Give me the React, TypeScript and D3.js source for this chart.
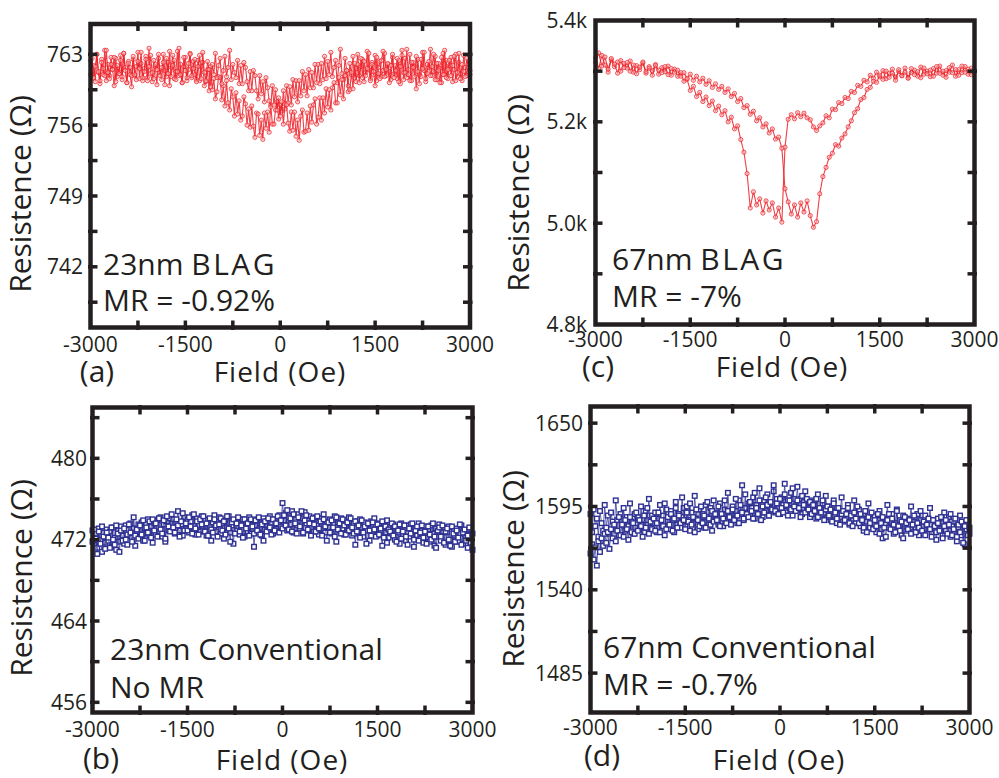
import React from 'react';
import * as d3 from 'd3';

// ---------------- data ----------------
// field grids of the sweeps (Oe)
const FIELD_FINE: number[] = d3.range(-3000, 3001, 25);
const FIELD_C: number[] = d3.range(-3000, 3001, 50);
const X_TICKS: number[] = d3.range(-3000, 3001, 750);
const X_LABELS: number[] = [-3000, -1500, 0, 1500, 3000];

// (a) 23nm BLAG  (on FIELD_FINE)
const A_SWEEP1: number[] = [
  762.4, 760.6, 761.9, 760.3, 763.0, 761.2, 760.1, 762.5, 761.0, 763.4,
  760.4, 762.0, 760.9, 762.7, 761.5, 759.9, 762.6, 760.8, 761.3, 762.9,
  760.5, 763.1, 761.7, 760.2, 762.3, 761.0, 759.8, 762.5, 760.9, 761.8,
  763.2, 760.6, 762.1, 760.4, 761.6, 762.8, 760.7, 763.6, 761.1, 760.3,
  762.4, 761.8, 760.0, 762.6, 761.2, 760.5, 763.0, 761.4, 760.8, 762.2,
  759.9, 761.7, 762.9, 760.6, 761.3, 763.3, 760.9, 762.0, 760.2, 761.8,
  762.7, 760.4, 761.5, 763.1, 760.7, 762.3, 761.0, 760.5,
  762.4, 760.4, 761.8, 762.2, 759.9, 760.3, 761.5, 759.4, 761.8, 759.5,
  760.6, 758.6, 759.3, 760.8, 760.7, 758.5, 759.9, 757.9, 760.4, 758.2,
  757.5, 759.6, 758.8, 756.9, 759.2, 757.1, 758.4, 756.5, 756.9, 758.8,
  758.1, 756.0, 757.6, 755.8, 757.9, 755.9, 754.8, 757.2, 757.1, 755.0,
  756.5, 754.6, 757.2, 755.7, 757.3, 755.3, 758.0, 756.1, 756.1, 757.5,
  758.3, 756.6, 758.0,
  757.4, 759.4, 757.6, 759.9, 758.2, 759.8, 758.0, 760.5, 758.8, 760.4,
  758.3, 760.4, 758.9, 761.3, 759.4, 761.0, 758.9, 761.5, 759.7, 761.2,
  759.7, 762.0, 760.2, 762.0, 760.1, 762.1, 760.5, 762.8,
  760.6, 762.3, 761.0, 763.2, 760.8, 761.7, 762.4, 760.2, 761.9, 763.5,
  761.1, 760.5, 762.6, 761.4, 759.9, 762.1, 761.0, 762.8, 760.7, 761.6,
  763.0, 760.9, 761.8, 762.5, 760.3, 761.2, 763.3, 761.5, 760.6, 762.2,
  761.0, 762.9, 760.4, 761.7, 762.3, 760.8, 761.4, 763.1, 760.9, 762.0,
  761.3, 760.5, 762.7, 761.1, 761.9, 760.6, 762.4, 760.1, 763.4, 761.2,
  762.6, 760.7, 761.5, 763.0, 760.4, 762.2, 761.8, 759.6, 762.5, 761.0,
  760.8, 763.2, 761.4, 760.3, 762.0, 761.7, 763.5, 760.9, 761.3, 762.8,
  760.5, 762.1, 761.6, 760.2, 763.1, 761.0, 762.4, 760.6, 761.9, 762.7,
  760.3, 761.5, 763.0, 760.8, 762.2, 761.1, 760.4, 762.9, 761.7, 760.9,
  762.3, 761.4,
];
const A_SWEEP2: number[] = [
  761.0, 762.6, 760.7, 761.8, 763.0, 761.3, 760.4, 762.2, 761.6, 760.9,
  763.4, 761.2, 760.6, 762.0, 761.5, 762.7, 760.3, 761.9, 761.1, 762.4,
  760.8, 763.1, 761.4, 760.2, 762.1, 761.7, 760.9, 762.8, 761.0, 760.5,
  762.3, 761.6, 763.2, 760.7, 761.3, 762.5, 760.4, 761.8, 762.9, 761.2,
  760.6, 762.0, 761.5, 763.0, 760.9, 761.7, 762.2, 760.0, 762.6, 761.1,
  763.3, 760.8, 761.9, 762.4, 760.5, 761.3, 763.6, 761.0, 760.2, 762.7,
  761.4, 760.7, 762.1, 763.0, 760.9, 761.6, 762.5, 760.3, 761.8, 762.9,
  760.6, 763.2, 761.2, 760.4, 762.3, 761.5, 759.8, 762.0, 761.0, 763.1,
  760.7, 761.9, 762.6, 760.1, 761.4, 762.8, 760.8, 761.7, 763.4, 760.5,
  762.0, 761.2,
  760.7, 762.4, 760.1, 761.9, 760.1, 762.2, 761.7, 760.3, 759.4, 761.3,
  759.4, 761.4, 760.9, 759.4, 758.6, 760.9, 759.1, 760.3, 758.3, 760.7,
  759.7, 758.4, 757.8, 759.9, 758.0, 759.5, 757.5, 758.7,
  756.9, 758.3, 756.1, 758.1, 758.0, 756.2, 755.4, 757.3, 755.5, 757.3,
  754.9, 756.5, 754.5, 756.9, 757.5, 755.3, 755.4, 757.2, 755.5, 757.9,
  756.3, 758.0, 758.6, 756.1, 756.8, 758.7, 756.5, 758.7, 757.2, 759.6,
  757.8, 759.5, 757.5, 759.7, 760.2, 758.2, 758.2, 760.7, 759.0, 760.5,
  758.6, 760.9, 761.4, 759.3, 759.5, 761.2, 759.6, 762.1, 760.3, 762.0,
  760.2, 762.6, 760.7,
  762.3, 760.9, 761.6, 763.1, 760.4, 762.0, 761.3, 759.9, 762.7, 761.1,
  760.6, 762.4, 763.3, 760.8, 761.5, 762.1, 760.2, 761.9, 763.0, 760.7,
  761.4, 762.6, 760.3, 761.8, 762.9, 760.5, 761.2, 763.5, 761.0, 760.4,
  762.2, 761.7, 760.8, 762.8, 761.3, 760.1, 762.5, 761.6, 763.2, 760.6,
  761.1, 762.3, 760.9, 761.8, 763.0, 760.5, 762.1, 761.4, 760.2, 762.7,
  761.0, 763.4, 760.7, 761.5, 762.4, 760.9, 761.9, 762.8, 760.4, 761.2,
  763.1, 760.6, 762.0, 761.3, 760.8, 762.6, 761.7, 761.0,
];
const A_Y_MAJOR: number[] = [763, 756, 749, 742];
const A_Y_MINOR: number[] = [759.5, 752.5, 745.5, 738.5];
const A_Y_LABELS: string[] = ['763', '756', '749', '742'];

// (c) 67nm BLAG  (on FIELD_C)
const C_SWEEP1: number[] = [
  5326, 5305, 5331, 5312, 5298, 5322, 5309, 5318, 5300, 5315,
  5306, 5320, 5298, 5311, 5303, 5316, 5296, 5309, 5301, 5313,
  5294, 5307, 5299, 5310, 5292, 5304,
  5290, 5297, 5280, 5284, 5262, 5270, 5250, 5258, 5240, 5249,
  5232, 5241, 5222, 5231, 5214, 5222, 5200, 5209, 5186, 5192,
  5165, 5140, 5098, 5030, 5062, 5036, 5048, 5020, 5044, 5026,
  5040, 5012, 5030,
  5002, 5150, 5205, 5214, 5206, 5218, 5210, 5217, 5208, 5204,
  5190, 5183, 5192, 5198, 5212, 5208, 5225, 5224, 5238, 5236,
  5248, 5246, 5260, 5258, 5272, 5270, 5282, 5279,
  5292, 5286, 5298, 5289, 5301, 5285, 5296, 5304, 5288, 5299,
  5291, 5306, 5287, 5297, 5302, 5290, 5308, 5294, 5300, 5289,
  5305, 5296, 5310, 5292, 5301, 5298, 5312, 5290, 5303, 5297,
  5309, 5294, 5306, 5300,
];
const C_SWEEP2: number[] = [
  5318, 5336, 5310, 5328, 5304, 5325, 5314, 5296, 5321, 5307,
  5317, 5300, 5312, 5295, 5308, 5318, 5299, 5306, 5292, 5311,
  5302, 5297, 5309, 5293, 5305, 5298,
  5302, 5290, 5297, 5286, 5294, 5282, 5290, 5279, 5286, 5274,
  5281, 5268, 5275, 5264, 5270, 5258, 5265, 5250, 5256, 5240,
  5246, 5228, 5232, 5215, 5221, 5202, 5208, 5190, 5196, 5178,
  5186, 5166, 5170, 5148,
  5068, 5042, 5018, 5036, 5012, 5040, 5022, 5044, 5015, 4992, 5003,
  5058, 5092, 5110, 5130, 5138, 5155, 5152, 5168, 5176, 5190,
  5202, 5218, 5226, 5244, 5248, 5264, 5268, 5280, 5278,
  5292, 5284, 5300, 5288, 5296, 5282, 5303, 5291, 5298, 5286,
  5305, 5293, 5299, 5287, 5306, 5295, 5302, 5290, 5309, 5296,
  5300, 5288, 5307, 5297, 5303, 5292, 5310, 5298, 5304, 5293, 5301,
];
const C_Y_MAJOR: number[] = [5400, 5200, 5000, 4800];
const C_Y_MINOR: number[] = [5300, 5100, 4900];
const C_Y_LABELS: string[] = ['5.4k', '5.2k', '5.0k', '4.8k'];

// (b) 23nm Conventional  (on FIELD_FINE)
const B_SWEEP1: number[] = [
  472.9, 471.5, 472.6, 471.2, 473.1, 472.0, 470.8, 472.7, 471.7, 473.0,
  471.9, 472.8, 471.3, 473.2, 472.2, 471.0, 472.9, 471.8, 473.3, 472.4,
  471.6, 473.4, 472.5, 471.9, 473.6, 472.2, 473.1, 471.4, 472.8, 473.5,
  472.3, 473.7, 471.9, 473.1, 472.6, 474.0, 472.4, 473.3, 471.7, 473.6,
  472.5, 473.9, 472.8, 474.2, 472.3, 473.5, 471.8, 473.8, 472.9, 474.1,
  473.0, 474.0, 472.6, 473.7, 474.8, 472.9, 473.5, 472.4, 474.2, 473.1,
  474.0, 472.7, 473.8, 474.4, 473.0, 472.5, 474.1, 473.4, 472.8, 474.3,
  472.9, 473.9, 472.4, 474.0, 473.3, 471.9, 473.7, 474.4, 472.8, 473.5,
  474.2, 472.6, 473.6, 472.1, 473.9, 473.2, 474.3, 472.7, 473.4, 471.6,
  473.8, 472.9, 474.1, 472.5, 473.5, 474.0, 472.3, 473.7, 472.8, 474.2,
  472.6, 473.9, 471.3, 473.4, 474.0, 472.7, 473.6, 472.4, 474.1, 473.0,
  473.8, 472.9, 474.3, 473.2, 472.6, 474.0, 473.5, 472.8, 474.4, 473.3,
  475.6, 473.9, 474.6, 472.9, 474.2, 473.5, 474.8, 472.7, 474.0, 473.4,
  474.5, 473.1, 474.1, 472.6, 474.7, 473.6, 472.9, 474.3, 473.2, 474.0,
  472.8, 474.2, 473.4, 472.5, 474.1, 473.0, 474.5, 472.7, 473.8, 473.2,
  474.0, 472.6, 473.5, 474.3, 471.8, 473.7, 472.9, 474.1, 473.1, 472.5,
  473.9, 472.8, 474.2, 473.3, 472.4, 473.6, 471.5, 473.8, 472.7, 474.0,
  473.2, 472.3, 473.7, 472.9, 473.5, 471.9, 473.8, 472.6, 474.1, 473.0,
  472.4, 473.6, 472.8, 471.4, 473.4, 472.7, 473.9, 472.2, 473.3, 472.6,
  473.5, 472.0, 473.2, 472.7, 471.6, 473.6, 472.5, 473.1, 471.9, 473.4,
  472.3, 473.5, 472.8, 471.3, 473.2, 472.4, 473.6, 472.1, 472.9, 471.7,
  473.3, 472.2, 473.0, 471.8, 473.4, 472.6, 471.4, 473.1, 472.3, 473.5,
  471.9, 472.8, 473.2, 471.5, 472.7, 473.3, 472.0, 471.3, 473.0, 472.4,
  473.1, 471.8, 472.6, 473.4, 471.6, 472.9, 472.2, 471.2, 473.0, 472.5,
  471.0,
];
const B_SWEEP2: number[] = [
  471.8, 473.0, 472.1, 470.6, 472.8, 471.6, 473.3, 472.3, 471.1, 472.7,
  472.2, 471.2, 473.2, 472.0, 471.5, 473.4, 472.6, 470.8, 472.9, 471.9,
  473.1, 472.0, 471.5, 473.5, 472.7, 471.8, 474.2, 472.4, 473.0, 472.1,
  473.4, 472.5, 473.9, 471.9, 473.2, 472.7, 473.8, 472.2, 474.0, 472.9,
  473.6, 472.3, 474.1, 473.0, 472.6, 473.9, 472.1, 474.3, 473.3, 472.8,
  474.5, 473.2, 472.7, 474.0, 473.4, 472.3, 473.8, 474.6, 472.9, 473.6,
  472.9, 474.2, 473.3, 472.6, 474.5, 473.1, 473.8, 472.5, 474.0, 473.5,
  474.3, 472.8, 473.6, 472.4, 474.1, 473.0, 472.7, 474.0, 473.4, 472.3,
  473.5, 474.1, 472.9, 473.8, 472.5, 474.3, 473.1, 471.8, 473.7, 474.0,
  472.6, 473.6, 474.2, 472.8, 473.4, 472.2, 474.0, 473.1, 473.6, 472.4,
  474.0, 473.3, 472.6, 473.9, 472.9, 474.2, 472.5, 473.5, 471.9, 473.8,
  472.8, 474.1, 473.2, 472.5, 474.0, 472.9, 473.6, 474.3, 472.7, 473.9,
  473.1, 474.4, 473.4, 474.9, 473.0, 474.1, 472.8, 474.5, 473.6, 472.6,
  474.2, 473.3, 474.8, 472.7, 473.9, 474.4, 473.0, 473.6, 472.4, 474.1,
  473.5, 472.8, 474.3, 473.1, 473.8, 472.4, 474.0, 473.3, 471.9, 473.7,
  472.7, 473.9, 473.2, 472.3, 474.2, 473.0, 473.6, 472.6, 474.0, 473.4,
  472.5, 473.7, 472.9, 474.1, 473.2, 472.6, 473.8, 472.8, 473.4, 472.2,
  473.9, 472.7, 473.3, 471.6, 473.6, 472.9, 472.4, 473.7, 473.0, 472.3,
  473.5, 472.5, 473.1, 473.8, 472.2, 473.3, 471.7, 473.0, 472.8, 473.6,
  472.4, 473.3, 471.8, 472.9, 473.5, 472.1, 472.8, 473.4, 472.3, 471.5,
  473.1, 472.6, 473.6, 472.0, 472.9, 473.3, 471.9, 472.7, 473.4, 472.2,
  472.8, 471.6, 473.3, 472.5, 472.0, 473.6, 472.3, 471.2, 472.9, 473.2,
  472.3, 473.4, 471.7, 472.8, 473.1, 472.0, 471.4, 473.3, 472.6, 471.8,
  472.9, 472.2, 473.5, 471.5, 472.7, 473.0, 471.9, 472.4, 473.2, 471.7,
  472.6,
];
const B_Y_MAJOR: number[] = [480, 472, 464, 456];
const B_Y_MINOR: number[] = [484, 476, 468, 460];
const B_Y_LABELS: string[] = ['480', '472', '464', '456'];

// (d) 67nm Conventional  (on FIELD_FINE)
const D_SWEEP1: number[] = [
  1590, 1578, 1593, 1582, 1587, 1575, 1592, 1584, 1579, 1596,
  1581, 1589, 1577, 1591, 1585, 1580, 1599, 1586, 1576, 1590,
  1583, 1594, 1579, 1588, 1582, 1597, 1585, 1577, 1590, 1584,
  1588, 1580, 1595, 1583, 1578, 1592, 1586, 1600, 1581, 1589,
  1584, 1591, 1578, 1587, 1596, 1582, 1589, 1576, 1593, 1585,
  1580, 1592, 1586, 1578, 1598, 1583, 1590, 1581, 1588, 1594,
  1582, 1595, 1586, 1579, 1591, 1584, 1602, 1587, 1580, 1593,
  1585, 1590, 1581, 1596, 1588, 1583, 1594, 1579, 1599, 1586,
  1591, 1583, 1597, 1588, 1582, 1593, 1586, 1604, 1589, 1584,
  1595, 1587, 1592, 1584, 1599, 1590, 1609, 1586, 1594, 1588,
  1597, 1589, 1594, 1601, 1587, 1596, 1591, 1607, 1593, 1588,
  1599, 1592, 1603, 1589, 1597, 1593, 1605, 1591, 1600, 1594,
  1590, 1601, 1596, 1610, 1592, 1599, 1594, 1604, 1589, 1600,
  1595, 1608, 1593, 1600, 1590, 1598, 1605, 1592, 1597, 1588,
  1599, 1591, 1596, 1587, 1603, 1593, 1589, 1597, 1590, 1602,
  1588, 1595, 1586, 1592, 1599, 1589, 1584, 1594, 1590, 1601,
  1585, 1592, 1588, 1596, 1583, 1590, 1586, 1599, 1584, 1589,
  1593, 1582, 1588, 1579, 1590, 1585, 1597, 1581, 1587, 1583,
  1589, 1578, 1586, 1592, 1580, 1574, 1587, 1583, 1596, 1581,
  1585, 1590, 1577, 1584, 1593, 1580, 1586, 1576, 1589, 1583,
  1579, 1587, 1583, 1595, 1578, 1585, 1581, 1590, 1576, 1586,
  1582, 1577, 1589, 1583, 1580, 1594, 1578, 1586, 1581, 1573,
  1587, 1580, 1584, 1576, 1591, 1579, 1583, 1588, 1575, 1582,
  1578, 1585, 1572, 1581, 1589, 1576, 1583, 1570, 1580, 1586,
  1577,
];
const D_SWEEP2: number[] = [
  1564, 1570, 1560, 1568, 1556, 1572, 1565, 1574, 1569, 1577,
  1571, 1578, 1567, 1580, 1574, 1583, 1572, 1579, 1588, 1576,
  1583, 1575, 1586, 1580, 1573, 1588, 1578, 1584, 1577, 1591,
  1579, 1586, 1582, 1575, 1589, 1581, 1594, 1577, 1585, 1580,
  1587, 1579, 1584, 1591, 1578, 1586, 1582, 1597, 1580, 1588,
  1583, 1590, 1579, 1587, 1594, 1581, 1589, 1584, 1601, 1586,
  1580, 1591, 1585, 1597, 1583, 1588, 1578, 1593, 1586, 1582,
  1595, 1584, 1589, 1581, 1598, 1587, 1583, 1592, 1585, 1590,
  1586, 1595, 1582, 1590, 1587, 1599, 1584, 1592, 1588, 1583,
  1593, 1586, 1600, 1589, 1584, 1596, 1591, 1587, 1603, 1590,
  1588, 1598, 1592, 1587, 1604, 1594, 1590, 1599, 1586, 1595,
  1591, 1601, 1596, 1589, 1598, 1593, 1609, 1592, 1597, 1590,
  1600, 1594, 1591, 1603, 1596, 1589, 1599, 1593, 1607, 1595,
  1592, 1599, 1594, 1588, 1602, 1596, 1591, 1600, 1593, 1598,
  1590, 1596, 1592, 1600, 1588, 1594, 1591, 1599, 1586, 1593,
  1595, 1589, 1593, 1585, 1597, 1591, 1587, 1594, 1583, 1590,
  1592, 1586, 1590, 1594, 1584, 1589, 1582, 1591, 1587, 1595,
  1584, 1590, 1586, 1581, 1592, 1578, 1588, 1584, 1591, 1580,
  1586, 1582, 1590, 1577, 1584, 1588, 1581, 1575, 1586, 1590,
  1580, 1587, 1583, 1578, 1592, 1582, 1579, 1585, 1574, 1588,
  1584, 1580, 1586, 1577, 1583, 1589, 1578, 1584, 1581, 1592,
  1579, 1585, 1576, 1583, 1587, 1580, 1575, 1586, 1582, 1578,
  1584, 1579, 1588, 1574, 1582, 1586, 1577, 1583, 1590, 1576,
  1580, 1587, 1575, 1583, 1578, 1585, 1571, 1582, 1586, 1576,
  1581,
];
const D_Y_MAJOR: number[] = [1650, 1595, 1540, 1485];
const D_Y_MINOR: number[] = [1622.5, 1567.5, 1512.5];
const D_Y_LABELS: string[] = ['1650', '1595', '1540', '1485'];

// ---------------- styling ----------------
const FONT = "'Open Sans', 'Noto Sans', sans-serif";
const INK = '#231f20';
const RED = '#ec1c24';
const BLUE = '#2e3192';

type PanelCfg = {
  left: number; right: number; top: number; bottom: number;
  yDomain: [number, number];
  yMajor: number[]; yMinor: number[]; yLabels: string[];
  field: number[];
  sweeps: number[][];
  kind: 'circle' | 'square';
  color: string;
  notes: { text: string; spaced?: string }[];
  noteX: number; noteY: number[];
  letter: string; letterX: number; letterY: number;
  xLabelY: number; titleX: number; titleY: number;
  yLabelRight: number; yTitleX: number; yTitleY: number;
};

function Panel(p: PanelCfg) {
  const x = d3.scaleLinear().domain([-3000, 3000]).range([p.left, p.right]);
  const y = d3.scaleLinear().domain(p.yDomain).range([p.bottom, p.top]);
  const line = d3.line<number>().x((_, i) => x(p.field[i])).y((d) => y(d));
  const tIn = 7, tOut = 2.5, tw = 3.5;
  const yTicks = [...p.yMajor, ...p.yMinor].filter((v) => y(v) > p.top + 2 && y(v) < p.bottom - 2);
  const xTicks = X_TICKS.filter((v) => x(v) > p.left + 2 && x(v) < p.right - 2);
  return (
    <g>
      {/* data */}
      {p.sweeps.map((s, k) => (
        <g key={k}>
          <path d={line(s) || ''} fill="none" stroke={p.color}
            strokeWidth={p.kind === 'circle' ? 1.1 : 1.0}
            strokeOpacity={p.kind === 'circle' ? 0.85 : 0.75} />
          {s.map((v, i) =>
            p.kind === 'circle' ? (
              <circle key={i} cx={x(p.field[i])} cy={y(v)} r={2.1} fill="#f6b8b8" fillOpacity={0.5}
                stroke={p.color} strokeOpacity={0.75} strokeWidth={0.95} />
            ) : (
              <rect key={i} x={x(p.field[i]) - 2.3} y={y(v) - 2.3} width={4.6} height={4.6}
                fill="#ffffff" stroke={p.color} strokeWidth={1.4} />
            )
          )}
        </g>
      ))}
      {/* ticks */}
      {xTicks.map((v) => (
        <g key={'x' + v}>
          <line x1={x(v)} x2={x(v)} y1={p.bottom + tOut} y2={p.bottom - tIn} stroke={INK} strokeWidth={tw} />
          <line x1={x(v)} x2={x(v)} y1={p.top - tOut} y2={p.top + tIn} stroke={INK} strokeWidth={tw} />
        </g>
      ))}
      {yTicks.map((v) => (
        <g key={'y' + v}>
          <line x1={p.left - tOut} x2={p.left + tIn} y1={y(v)} y2={y(v)} stroke={INK} strokeWidth={tw} />
          <line x1={p.right + tOut} x2={p.right - tIn} y1={y(v)} y2={y(v)} stroke={INK} strokeWidth={tw} />
        </g>
      ))}
      {/* frame */}
      <rect x={p.left} y={p.top} width={p.right - p.left} height={p.bottom - p.top}
        fill="none" stroke={INK} strokeWidth={4.5} />
      {/* tick labels */}
      {X_LABELS.map((v) => (
        <text key={'xl' + v} x={x(v)} y={p.xLabelY} textAnchor="middle" fontSize={21}
          fontFamily={FONT} fill={INK}>{v}</text>
      ))}
      {p.yMajor.map((v, i) => (
        <text key={'yl' + v} x={p.yLabelRight} y={y(v)} dy="0.36em" textAnchor="end" fontSize={21}
          fontFamily={FONT} fill={INK}>{p.yLabels[i]}</text>
      ))}
      {/* titles */}
      <text x={p.titleX} y={p.titleY} textAnchor="middle" fontSize={28} letterSpacing={1}
        fontFamily={FONT} fill={INK}>Field (Oe)</text>
      <text x={p.letterX} y={p.letterY} textAnchor="middle" fontSize={30}
        fontFamily={FONT} fill={INK}>{p.letter}</text>
      <text transform={`translate(${p.yTitleX},${p.yTitleY}) rotate(-90)`} textAnchor="middle"
        fontSize={30} fontFamily={FONT} fill={INK}>Resistence (Ω)</text>
      {/* annotations */}
      {p.notes.map((n, i) => (
        <text key={'n' + i} x={p.noteX} y={p.noteY[i]} fontSize={30} fontFamily={FONT} fill={INK}>
          {n.text}
          {n.spaced ? <tspan letterSpacing={2.5}>{n.spaced}</tspan> : null}
        </text>
      ))}
    </g>
  );
}

const PANELS: PanelCfg[] = [
  {
    left: 90.5, right: 470, top: 24, bottom: 327.5, yDomain: [736, 766],
    yMajor: A_Y_MAJOR, yMinor: A_Y_MINOR, yLabels: A_Y_LABELS,
    field: FIELD_FINE, sweeps: [A_SWEEP1, A_SWEEP2], kind: 'circle', color: RED,
    notes: [{ text: '23nm ', spaced: 'BLAG' }, { text: 'MR = -0.92%' }],
    noteX: 103, noteY: [275, 311],
    letter: '(a)', letterX: 97, letterY: 382,
    xLabelY: 352, titleX: 280, titleY: 382,
    yLabelRight: 83, yTitleX: 31, yTitleY: 194,
  },
  {
    left: 595.5, right: 974.5, top: 20.5, bottom: 324.5, yDomain: [4800, 5400],
    yMajor: C_Y_MAJOR, yMinor: C_Y_MINOR, yLabels: C_Y_LABELS,
    field: FIELD_C, sweeps: [C_SWEEP1, C_SWEEP2], kind: 'circle', color: RED,
    notes: [{ text: '67nm ', spaced: 'BLAG' }, { text: 'MR = -7%' }],
    noteX: 612, noteY: [270, 307],
    letter: '(c)', letterX: 598, letterY: 377,
    xLabelY: 347, titleX: 782, titleY: 377,
    yLabelRight: 587, yTitleX: 529, yTitleY: 193,
  },
  {
    left: 92.5, right: 472.5, top: 407.5, bottom: 712.5, yDomain: [455, 485],
    yMajor: B_Y_MAJOR, yMinor: B_Y_MINOR, yLabels: B_Y_LABELS,
    field: FIELD_FINE, sweeps: [B_SWEEP1, B_SWEEP2], kind: 'square', color: BLUE,
    notes: [{ text: '23nm Conventional' }, { text: 'No MR' }],
    noteX: 110, noteY: [660, 698],
    letter: '(b)', letterX: 101, letterY: 769,
    xLabelY: 737, titleX: 282, titleY: 770,
    yLabelRight: 87, yTitleX: 32, yTitleY: 578,
  },
  {
    left: 590.5, right: 969.5, top: 406.5, bottom: 712.5, yDomain: [1459, 1661],
    yMajor: D_Y_MAJOR, yMinor: D_Y_MINOR, yLabels: D_Y_LABELS,
    field: FIELD_FINE, sweeps: [D_SWEEP1, D_SWEEP2], kind: 'square', color: BLUE,
    notes: [{ text: '67nm Conventional' }, { text: 'MR = -0.7%' }],
    noteX: 603, noteY: [658, 695],
    letter: '(d)', letterX: 602, letterY: 766,
    xLabelY: 735, titleX: 779, titleY: 770,
    yLabelRight: 583, yTitleX: 524, yTitleY: 569,
  },
];

export default function App() {
  return (
    <svg width={999} height={778} viewBox="0 0 999 778"
      style={{ position: 'absolute', left: 0, top: 0, background: '#ffffff' }}>
      <rect x={0} y={0} width={999} height={778} fill="#ffffff" />
      {PANELS.map((p, i) => (
        <Panel key={i} {...p} />
      ))}
    </svg>
  );
}
